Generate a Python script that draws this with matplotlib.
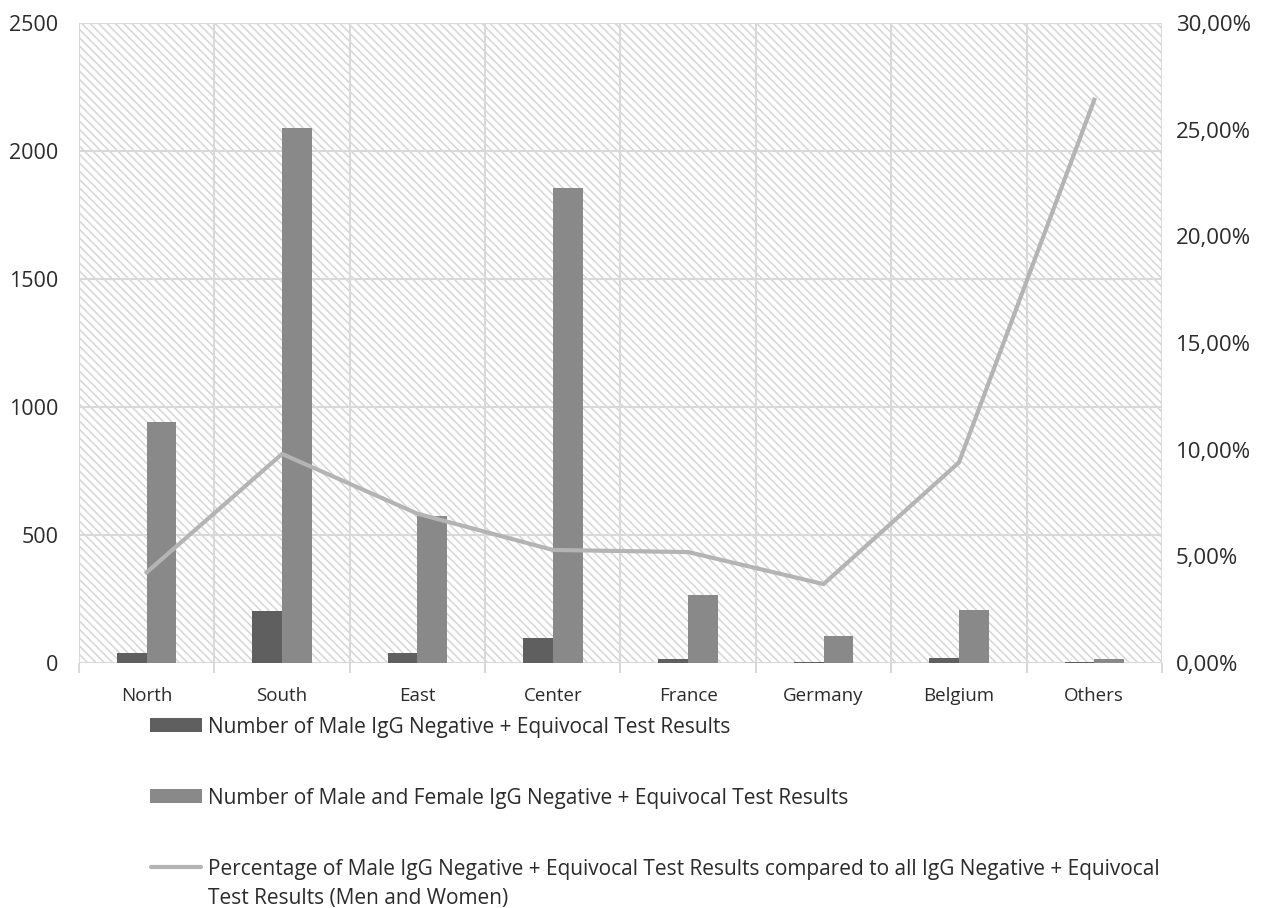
import matplotlib
matplotlib.use("Agg")
import matplotlib.pyplot as plt
from matplotlib.patches import Rectangle
from matplotlib.lines import Line2D
from matplotlib.ticker import FuncFormatter, MultipleLocator, FixedLocator
import numpy as np

regions = ["North", "South", "East", "Center", "France", "Germany", "Belgium", "Others"]
male_counts = [40, 203, 40, 98, 14, 4, 20, 4]
all_counts = [941, 2090, 575, 1855, 265, 105, 208, 17]
male_pct = [4.25, 9.8, 7.0, 5.3, 5.2, 3.7, 9.4, 26.4]

legend_labels = [
    "Number of Male IgG Negative + Equivocal Test Results",
    "Number of Male and Female IgG Negative + Equivocal Test Results",
    "Percentage of Male IgG Negative + Equivocal Test Results compared to all IgG Negative + Equivocal\nTest Results (Men and Women)",
]

plt.rcParams["font.family"] = ["Open Sans", "DejaVu Sans"]
plt.rcParams["hatch.linewidth"] = 1.1
plt.rcParams["hatch.color"] = "#d6d6d6"

TEXT = "#2b2b2b"
GRID = "#d9d9d9"
C_MALE = "#5f5f5f"
C_ALL = "#898989"
C_LINE = "#b4b4b4"
FS_LEFT = 15.5
FS_RIGHT = 16
FS_CAT = 13.5
FS_LEG = 15

fig = plt.figure(figsize=(12.68, 9.08), dpi=100)
ax = fig.add_axes([0.0623, 0.2698, 0.8541, 0.7049])

x = np.arange(len(regions))
w = 0.22

# patterned plot-area background
bg = Rectangle((0, 0), 1, 1, transform=ax.transAxes, facecolor="white",
               edgecolor="#d6d6d6", hatch="\\" * 4, linewidth=0, zorder=0)
ax.add_patch(bg)

ax.bar(x - w / 2, male_counts, width=w, color=C_MALE, zorder=3)
ax.bar(x + w / 2, all_counts, width=w, color=C_ALL, zorder=3)

ax.set_xlim(-0.5, len(regions) - 0.5)
ax.set_ylim(0, 2500)
ax.yaxis.set_major_locator(MultipleLocator(500))
ax.set_xticks(x)
ax.set_xticklabels(regions)
ax.xaxis.set_minor_locator(FixedLocator(np.arange(-0.5, len(regions), 1.0)))

ax.grid(axis="y", which="major", color=GRID, linewidth=1.5, zorder=1)
ax.grid(axis="x", which="minor", color=GRID, linewidth=1.5, zorder=1)
ax.set_axisbelow(True)
for s in ax.spines.values():
    s.set_visible(False)

ax.tick_params(axis="x", which="major", length=0, pad=17, labelsize=FS_CAT, labelcolor=TEXT)
ax.tick_params(axis="x", which="minor", length=7, width=1.5, color=GRID)
ax.tick_params(axis="y", length=0, pad=15, labelsize=FS_LEFT, labelcolor=TEXT)

ax2 = ax.twinx()
ax2.plot(x, male_pct, color=C_LINE, linewidth=3, solid_joinstyle="miter", zorder=5)
ax2.set_ylim(0, 30)
ax2.yaxis.set_major_locator(MultipleLocator(5))
ax2.yaxis.set_major_formatter(FuncFormatter(lambda v, _: f"{v:.2f}".replace(".", ",") + "%"))
ax2.tick_params(axis="y", length=0, pad=10, labelsize=FS_RIGHT, labelcolor=TEXT)
for s in ax2.spines.values():
    s.set_visible(False)

# legend below the plot, one entry per row
W, H = fig.get_size_inches() * fig.dpi


def fx(px):
    return px / W


def fy(py):
    return 1 - py / H


rows = [725, 796, 867]
for i, (lab, row) in enumerate(zip(legend_labels, rows)):
    if i < 2:
        col = C_MALE if i == 0 else C_ALL
        fig.add_artist(Rectangle((fx(150), fy(row + 7)), fx(202) - fx(150), fy(row - 7) - fy(row + 7),
                                 transform=fig.transFigure, facecolor=col, edgecolor="none"))
    else:
        fig.add_artist(Line2D([fx(151), fx(201)], [fy(row), fy(row)], transform=fig.transFigure,
                              color=C_LINE, linewidth=3, solid_capstyle="round"))
    for k, line in enumerate(lab.split("\n")):
        fig.text(fx(208), fy(row + 29 * k), line, ha="left", va="center_baseline",
                 fontsize=FS_LEG, color=TEXT, transform=fig.transFigure)

fig.savefig("out.png", dpi=100, facecolor="white")
